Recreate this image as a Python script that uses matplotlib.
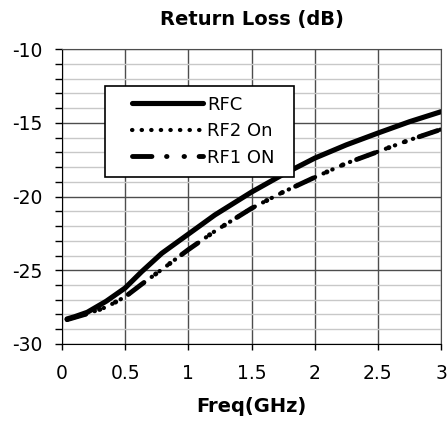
#!/usr/bin/env python3
"""Return loss vs frequency for RFC / RF2 / RF1 ports."""
import matplotlib
matplotlib.use("Agg")
import matplotlib.pyplot as plt
from matplotlib.legend_handler import HandlerLine2D
from matplotlib.ticker import MultipleLocator

plt.rcParams["axes.unicode_minus"] = False

FREQ_GHZ = [0.04, 0.1, 0.2, 0.35, 0.5, 0.63, 0.79, 1.0, 1.21, 1.5, 1.75, 2.0, 2.25, 2.5, 2.75, 3.0]
RFC_DB = [-28.3, -28.15, -27.85, -27.1, -26.2, -25.1, -23.85, -22.55, -21.25, -19.7,
          -18.5, -17.4, -16.5, -15.7, -14.93, -14.25]
RF2_DB = [-28.35, -28.2, -27.95, -27.5, -26.8, -25.95, -24.95, -23.6, -22.35, -20.8,
          -19.7, -18.7, -17.75, -16.96, -16.17, -15.45]
RF1_DB = [-28.35, -28.2, -27.95, -27.5, -26.8, -25.95, -24.95, -23.6, -22.35, -20.8,
          -19.7, -18.7, -17.75, -16.96, -16.17, -15.45]
X_TICKS = [0, 0.5, 1, 1.5, 2, 2.5, 3]
X_TICK_LABELS = ["0", "0.5", "1", "1.5", "2", "2.5", "3"]


class LeadLine(HandlerLine2D):
    """Legend line that starts a bit in from the left edge of the handle box."""

    def get_xdata(self, legend, xdescent, ydescent, width, height, fontsize):
        _, xm = super().get_xdata(legend, xdescent, ydescent, width, height, fontsize)
        lead = 0.95 * fontsize
        return [-xdescent + lead, -xdescent + width], xm


fig = plt.figure(figsize=(4.47, 4.21), dpi=100)
ax = fig.add_axes([0.1387, 0.1829, 0.848, 0.7007])

ax.set_xlim(0, 3)
ax.set_ylim(-30, -10)
ax.yaxis.set_major_locator(MultipleLocator(5))
ax.yaxis.set_minor_locator(MultipleLocator(1))
ax.set_xticks(X_TICKS, X_TICK_LABELS)

ax.grid(which="minor", axis="y", color="#c8c8c8", linewidth=1.0)
ax.grid(which="major", axis="both", color="#4d4d4d", linewidth=1.0)
ax.set_axisbelow(True)

for side in ("top", "right"):
    ax.spines[side].set_color("#4d4d4d")
for side in ("left", "bottom"):
    ax.spines[side].set_color("black")

ax.tick_params(axis="y", which="both", direction="out", length=5, width=1, labelsize=13.5, pad=9)
ax.tick_params(axis="x", which="major", direction="out", length=4, width=1, labelsize=13.5, pad=10.5)

ax.plot(FREQ_GHZ, RFC_DB, color="black", linewidth=3.7, solid_capstyle="round",
        solid_joinstyle="round", label="RFC")
ax.plot(FREQ_GHZ, RF2_DB, color="black", linewidth=3, linestyle=(0, (0.1, 2.2)),
        dash_capstyle="round", label="RF2 On")
ax.plot(FREQ_GHZ, RF1_DB, color="black", linewidth=3.5,
        linestyle=(0, (4, 3, 0.1, 3.5, 0.1, 3)), dash_capstyle="round", label="RF1 ON")

handles, labels = ax.get_legend_handles_labels()
leg = ax.legend(handles, labels, loc="upper left", mode="expand",
                bbox_to_anchor=(0.113, 0.5, 0.4987, 0.375), fontsize=13,
                frameon=True, fancybox=False, framealpha=1, edgecolor="black",
                handlelength=4.9, handletextpad=0.22, borderpad=0.55, labelspacing=0.47,
                borderaxespad=0, handler_map={h: LeadLine() for h in handles})
leg.get_frame().set_linewidth(1.2)

ax.set_title("Return Loss (dB)", fontsize=14, fontweight="bold", pad=17)
ax.set_xlabel("Freq(GHz)", fontsize=14, fontweight="bold", labelpad=10)

fig.savefig("out.png", dpi=100)
